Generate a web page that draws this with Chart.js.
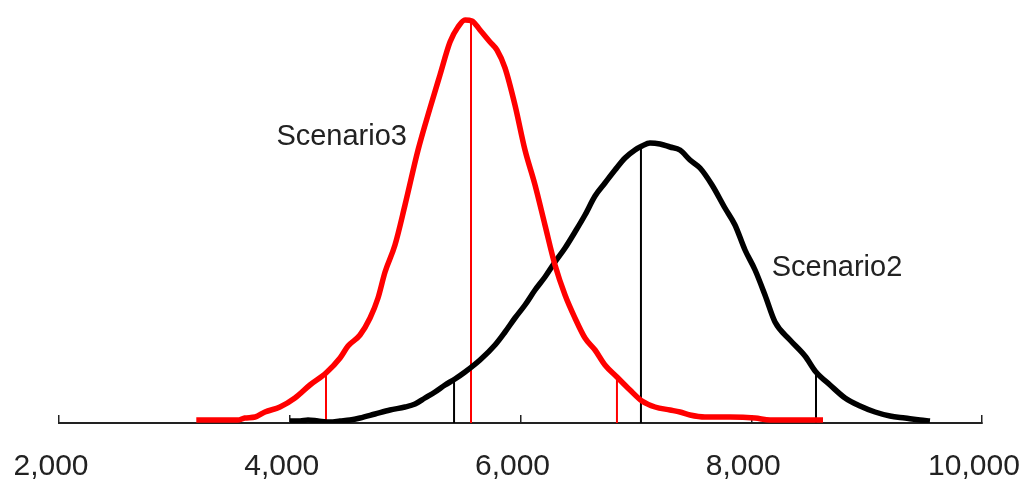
<!DOCTYPE html>
<html>
<head>
<meta charset="utf-8">
<script src="https://cdn.jsdelivr.net/npm/chart.js@4/dist/chart.umd.min.js"></script>
<style>
  body { margin: 0; background: #fff; }
</style>
</head>
<body>
<canvas id="densityChart" width="1027" height="482"></canvas>
<script>
// values (relative density)
const xTicks = [2000, 4000, 6000, 8000, 10000];

const scenario3X = [3190, 3550, 3610, 3700, 3785, 3915, 4045, 4175, 4314, 4436,
  4505, 4609, 4696, 4765, 4826, 4912, 4999, 5112, 5216, 5302,
  5389, 5458, 5519, 5580, 5649, 5736, 5796, 5866, 5952, 6039,
  6126, 6212, 6299, 6386, 6472, 6559, 6646, 6732, 6836, 6949,
  7053, 7166, 7296, 7382, 7469, 7599, 7816, 8033, 8163, 8622];
const scenario3Y = [0.03, 0.03, 0.05, 0.06, 0.11, 0.16, 0.25, 0.38, 0.50, 0.65,
  0.77, 0.88, 1.05, 1.25, 1.51, 1.78, 2.18, 2.73, 3.15, 3.48,
  3.81, 3.96, 4.03, 4.02, 3.93, 3.81, 3.73, 3.55, 3.18, 2.73,
  2.38, 1.98, 1.58, 1.28, 1.05, 0.85, 0.73, 0.58, 0.46, 0.33,
  0.22, 0.16, 0.13, 0.11, 0.08, 0.06, 0.06, 0.05, 0.03, 0.03];

const scenario2X = [4002, 4089, 4158, 4245, 4349, 4436, 4522, 4609, 4739, 4869,
  4999, 5086, 5172, 5259, 5346, 5432, 5519, 5649, 5779, 5866,
  5952, 6039, 6126, 6212, 6299, 6386, 6472, 6559, 6646, 6732,
  6819, 6906, 6992, 7053, 7122, 7209, 7296, 7382, 7469, 7556,
  7660, 7772, 7859, 7946, 8033, 8119, 8206, 8336, 8466, 8561,
  8683, 8813, 8943, 9073, 9203, 9333, 9463, 9549];
const scenario2Y = [0.02, 0.02, 0.03, 0.02, 0.01, 0.02, 0.03, 0.05, 0.09, 0.13,
  0.16, 0.19, 0.25, 0.31, 0.38, 0.44, 0.51, 0.63, 0.78, 0.91,
  1.05, 1.18, 1.33, 1.46, 1.61, 1.75, 1.91, 2.08, 2.27, 2.40,
  2.53, 2.65, 2.73, 2.77, 2.80, 2.79, 2.76, 2.73, 2.63, 2.55,
  2.38, 2.15, 1.98, 1.73, 1.53, 1.28, 1.01, 0.83, 0.67, 0.51,
  0.38, 0.25, 0.17, 0.11, 0.07, 0.05, 0.03, 0.02];

// 5%, 50%, 95% markers and the curve height where they stop
const scenario3Quantiles = [4314, 5571, 6836];
const scenario3QuantileY = [0.50, 4.02, 0.46];
const scenario2Quantiles = [5424, 7044, 8561];
const scenario2QuantileY = [0.44, 2.75, 0.51];

const seriesLabels = [
  { text: 'Scenario3', x: 4450, y: 2.86 },
  { text: 'Scenario2', x: 8743, y: 1.55 }
];

const RED = '#ff0000';
const BLACK = '#000000';
const FONT = "'Liberation Sans', Arial, sans-serif";

function toPoints(xs, ys) {
  return xs.map((x, i) => ({ x: x, y: ys[i] }));
}

function quantileSets(qs, hs, color) {
  return qs.map((q, i) => ({
    data: [{ x: q, y: 0 }, { x: q, y: hs[i] }],
    borderColor: color,
    borderWidth: 2,
    pointRadius: 0,
    fill: false
  }));
}

const labelPlugin = {
  id: 'seriesLabels',
  afterDatasetsDraw(chart) {
    const ctx = chart.ctx;
    const xs = chart.scales.x;
    const ys = chart.scales.y;
    ctx.save();
    ctx.font = '29px ' + FONT;
    ctx.fillStyle = '#222';
    ctx.textAlign = 'center';
    ctx.textBaseline = 'middle';
    seriesLabels.forEach(l => {
      ctx.fillText(l.text, xs.getPixelForValue(l.x), ys.getPixelForValue(l.y));
    });
    ctx.restore();
  }
};

const ctx = document.getElementById('densityChart').getContext('2d');
new Chart(ctx, {
  type: 'line',
  data: {
    datasets: [
      {
        data: toPoints(scenario3X, scenario3Y),
        borderColor: RED,
        borderWidth: 5.5,
        pointRadius: 0,
        cubicInterpolationMode: 'monotone',
        fill: false
      },
      {
        data: toPoints(scenario2X, scenario2Y),
        borderColor: BLACK,
        borderWidth: 5.5,
        pointRadius: 0,
        cubicInterpolationMode: 'monotone',
        fill: false
      },
      ...quantileSets(scenario3Quantiles, scenario3QuantileY, RED),
      ...quantileSets(scenario2Quantiles, scenario2QuantileY, BLACK)
    ]
  },
  options: {
    responsive: false,
    animation: false,
    layout: { padding: { left: 59, right: 45, top: 0, bottom: 0 } },
    plugins: {
      legend: { display: false },
      tooltip: { enabled: false }
    },
    scales: {
      x: {
        type: 'linear',
        min: 2000,
        max: 10000,
        afterBuildTicks: scale => {
          scale.ticks = xTicks.map(v => ({ value: v }));
        },
        afterFit: scale => {
          scale.height = 59;
          scale.paddingLeft = 0;
          scale.paddingRight = 0;
        },
        ticks: {
          font: { family: FONT, size: 30 },
          color: '#222',
          padding: 34,
          labelOffset: -8,
          maxRotation: 0,
          callback: v => v.toLocaleString('en-US')
        },
        grid: {
          drawOnChartArea: false,
          tickLength: -8,
          color: '#222',
          lineWidth: 1.5
        },
        border: { display: true, color: '#222', width: 2 }
      },
      y: {
        display: false,
        min: 0,
        max: 4.23
      }
    }
  },
  plugins: [labelPlugin]
});
</script>
</body>
</html>
